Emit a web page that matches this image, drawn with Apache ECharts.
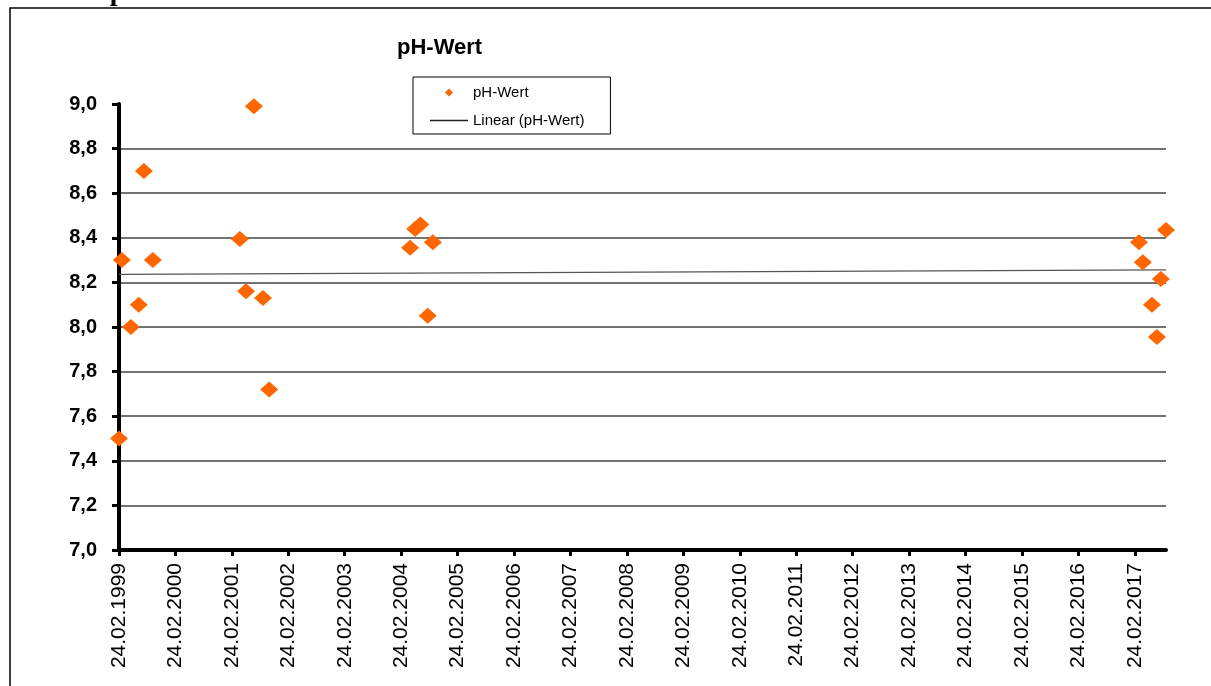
<!DOCTYPE html>
<html><head><meta charset="utf-8">
<script src="https://cdn.jsdelivr.net/npm/echarts@6/dist/echarts.min.js"></script>
<style>html,body{margin:0;padding:0;background:#fff}#c{width:1211px;height:686px}</style>
</head><body><div id="c"></div>
<script>
// Sample dates and pH values
const sampleDates = [
  '1999-02-24','1999-03-14','1999-05-12','1999-07-02','1999-08-04','1999-10-01',
  '2001-04-16','2001-05-26','2001-07-16','2001-09-13','2001-10-23',
  '2004-04-22','2004-05-25','2004-06-27','2004-08-14','2004-09-16',
  '2017-03-22','2017-04-16','2017-06-14','2017-07-16','2017-08-11','2017-09-13'
];
const phValues = [
  7.50, 8.30, 8.00, 8.10, 8.70, 8.30,
  8.395, 8.16, 8.99, 8.13, 7.72,
  8.355, 8.44, 8.46, 8.05, 8.38,
  8.38, 8.29, 8.10, 7.955, 8.215, 8.435
];
const xTickLabels = [
  '24.02.1999','24.02.2000','24.02.2001','24.02.2002','24.02.2003','24.02.2004',
  '24.02.2005','24.02.2006','24.02.2007','24.02.2008','24.02.2009','24.02.2010',
  '24.02.2011','24.02.2012','24.02.2013','24.02.2014','24.02.2015','24.02.2016','24.02.2017'
];
const yMin = 7.0, yMax = 9.0, yStep = 0.2;
const seriesName = 'pH-Wert';
const trendName = 'Linear (pH-Wert)';
const chartTitle = 'pH-Wert';
const headerText = 'Abb.3.2: pH-Wert';

const toMs = s => Date.parse(s + 'T00:00:00Z');
const labelToMs = l => { const p = l.split('.'); return Date.UTC(+p[2], +p[1]-1, +p[0]); };
const tickValues = xTickLabels.map(labelToMs);
const labelMap = {}; xTickLabels.forEach((l,i)=>{ labelMap[tickValues[i]] = l; });

const points = sampleDates.map((d,i)=>[toMs(d), phValues[i]]);
const xMin = tickValues[0];
const xMax = Math.max(...points.map(p=>p[0]));

// least-squares linear trend
const n = points.length;
const mx = points.reduce((a,p)=>a+p[0],0)/n;
const my = points.reduce((a,p)=>a+p[1],0)/n;
let sxy=0, sxx=0;
points.forEach(p=>{ sxy += (p[0]-mx)*(p[1]-my); sxx += (p[0]-mx)*(p[0]-mx); });
const slope = sxy/sxx, icpt = my - slope*mx;
const trend = [[xMin, icpt + slope*xMin], [xMax, icpt + slope*xMax]];

const FONT = '"Liberation Sans", Arial, sans-serif';
const chart = echarts.init(document.getElementById('c'), null, {renderer:'canvas'});
chart.setOption({
  animation: false,
  backgroundColor: '#fff',
  title: {
    text: chartTitle, left: 397, top: 37, padding: 0,
    textStyle: {fontFamily: FONT, fontSize: 22, fontWeight: 'bold', color: '#000'}
  },
  legend: {
    orient: 'vertical', left: 413, top: 77,
    itemWidth: 38, itemHeight: 8, itemGap: 13,
    padding: [8, 26, 6, 17],
    borderColor: '#000', borderWidth: 1,
    textStyle: {fontFamily: FONT, fontSize: 15, color: '#000'},
    data: [
      {name: seriesName, icon: 'path://M0,-1L1,0L0,1L-1,0Z'},
      {name: trendName, icon: 'path://M0,0L38,0L38,1.4L0,1.4Z'}
    ]
  },
  grid: {left: 119, right: 45, top: 104, bottom: 136, containLabel: false},
  xAxis: {
    type: 'value', min: xMin, max: xMax,
    axisLine: {show: true, lineStyle: {color: '#000', width: 4}},
    axisTick: {show: true, customValues: tickValues, length: 6, lineStyle: {color: '#000', width: 3}},
    axisLabel: {
      customValues: tickValues, rotate: 90, margin: 13,
      fontFamily: FONT, fontSize: 21, color: '#000',
      formatter: v => labelMap[v] || ''
    },
    splitLine: {show: false}
  },
  yAxis: {
    type: 'value', min: yMin, max: yMax, interval: yStep,
    axisLine: {show: true, lineStyle: {color: '#000', width: 4}},
    axisTick: {show: true, length: 7, lineStyle: {color: '#000', width: 3}},
    axisLabel: {
      margin: 22, fontFamily: FONT, fontSize: 20, fontWeight: 'bold', color: '#000',
      formatter: v => v.toFixed(1).replace('.', ',')
    },
    splitLine: {show: true, showMaxLine: false, showMinLine: false, lineStyle: {color: '#444', width: 1.5}}
  },
  series: [
    {
      name: trendName, type: 'line', data: trend, symbol: 'none',
      itemStyle: {color: '#222'},
      lineStyle: {color: '#555', width: 1.2}, z: 2, silent: true
    },
    {
      name: seriesName, type: 'scatter', data: points,
      symbol: 'diamond', symbolSize: [18, 16], symbolKeepAspect: true,
      itemStyle: {color: '#FF6600', opacity: 1}, z: 3
    }
  ],
  graphic: [
    {type: 'rect', silent: true, shape: {x: 10, y: 8, width: 1400, height: 900},
     style: {fill: 'none', stroke: '#000', lineWidth: 1.5}},
    {type: 'text', silent: true, x: 0, y: -21,
     style: {text: headerText, font: 'bold 28px "Liberation Serif", serif', fill: '#000'}}
  ]
});
</script></body></html>
